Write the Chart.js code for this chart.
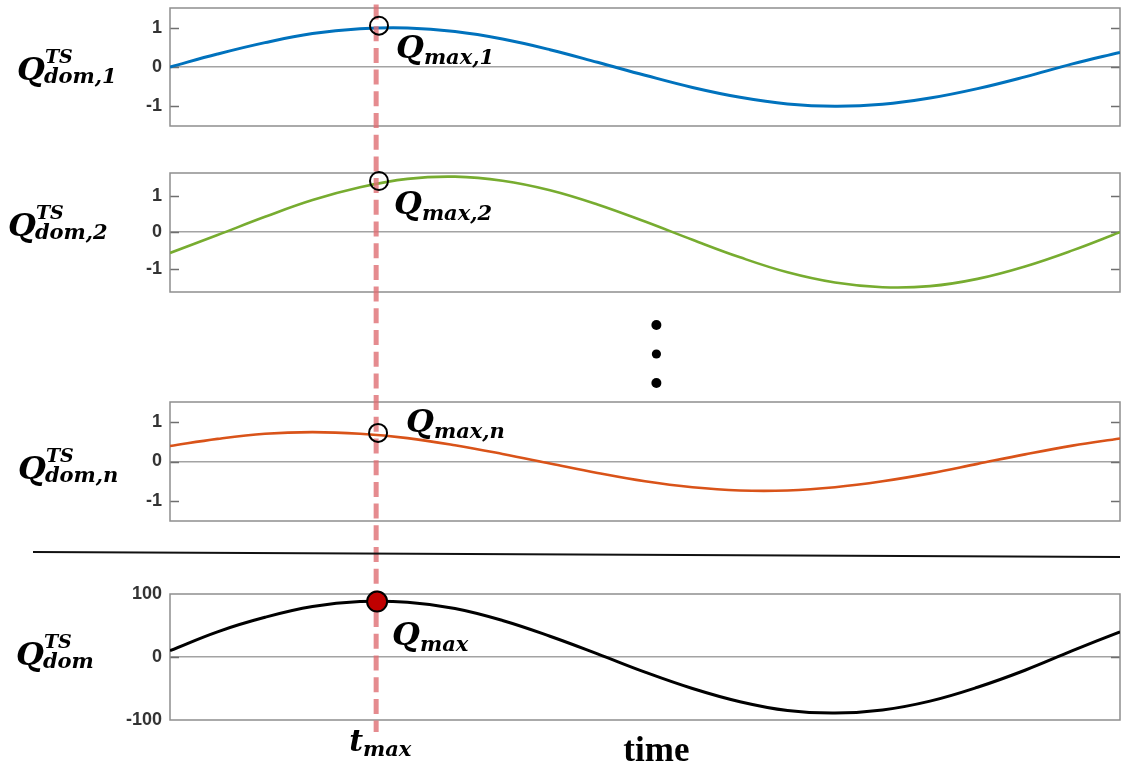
<!DOCTYPE html>
<html>
<head>
<meta charset="utf-8">
<script src="https://cdn.jsdelivr.net/npm/chart.js@4.4.1/dist/chart.umd.min.js"></script>
<style>
  html, body { margin: 0; padding: 0; background: #fff; }
  #fig { position: relative; width: 1122px; height: 767px; overflow: hidden; background: #fff; }
  #fig canvas { position: absolute; left: 0; }
</style>
</head>
<body>
<div id="fig">
  <canvas id="c1"></canvas>
  <canvas id="c2"></canvas>
  <canvas id="c3"></canvas>
  <canvas id="c4"></canvas>
</div>
<script>
// ---- data -------------------------------------------------------------
const timeAxis = [0, 5, 10, 15, 20, 25, 30, 35, 40, 45, 50, 55, 60, 65, 70, 75, 80, 85, 90, 95, 100];

const qDom1 = [0.00, 0.33, 0.62, 0.85, 0.97, 0.99, 0.90, 0.71, 0.44, 0.12, -0.21, -0.52, -0.77, -0.94, -1.00, -0.95, -0.79, -0.55, -0.25, 0.08, 0.37];
const qDom2 = [-0.57, -0.08, 0.42, 0.88, 1.23, 1.46, 1.52, 1.41, 1.15, 0.76, 0.29, -0.21, -0.69, -1.10, -1.38, -1.51, -1.48, -1.28, -0.94, -0.50, 0.00];
const qDomN = [0.39, 0.57, 0.70, 0.74, 0.70, 0.59, 0.41, 0.19, -0.05, -0.29, -0.50, -0.65, -0.73, -0.73, -0.65, -0.50, -0.30, -0.06, 0.18, 0.40, 0.58];
const qDom  = [10, 40, 63, 80, 88, 87, 77, 58, 33, 5, -24, -50, -71, -85, -89, -84, -70, -48, -21, 10, 40];

const tickUnit = [-1, 0, 1];
const tickDom  = [-100, 0, 100];

const tMax = 21.7;                       // time of the peak of the summed series
const peakTimes  = [22.0, 22.0, 21.9, 21.8];
const peakValues = [1.05, 1.40, 0.72, 88];
const ellipsisTime = 51.2;               // x position of the vertical ellipsis and the "time" caption

// ---- layout -------------------------------------------------------------
const W = 1122;
const PLOT_LEFT = 170, PLOT_RIGHT = 1120;
const DASH_TOP = 4.5, DASH_BOTTOM = 732;
const SERIF = '"DejaVu Serif", "Liberation Serif", serif';

const panels = [
  { canvas: 'c1', top: 0,   height: 150, plotTop: 8,   plotBottom: 126, series: qDom1, color: '#0072BD', lw: 3,
    yMin: -1.5, yMax: 1.5, ticks: tickUnit, name: { x: 17, base: 80, sub: 'dom,1' },
    peak: { dx: 17, dy: 32, sub: 'max,1' }, fill: 'rgba(0,0,0,0)', radius: 9 },
  { canvas: 'c2', top: 150, height: 242, plotTop: 173, plotBottom: 292, series: qDom2, color: '#77AC30', lw: 2.6,
    yMin: -1.64, yMax: 1.62, ticks: tickUnit, name: { x: 8, base: 236, sub: 'dom,2' },
    peak: { dx: 15, dy: 33, sub: 'max,2' }, fill: 'rgba(0,0,0,0)', radius: 9 },
  { canvas: 'c3', top: 392, height: 183, plotTop: 402, plotBottom: 521, series: qDomN, color: '#D95319', lw: 2.6,
    yMin: -1.5, yMax: 1.5, ticks: tickUnit, name: { x: 18, base: 479, sub: 'dom,n' },
    peak: { dx: 28, dy: -1, sub: 'max,n' }, fill: 'rgba(0,0,0,0)', radius: 9 },
  { canvas: 'c4', top: 575, height: 192, plotTop: 594, plotBottom: 720, series: qDom, color: '#000000', lw: 3,
    yMin: -100, yMax: 100, ticks: tickDom, name: { x: 16, base: 665, sub: 'dom' },
    peak: { dx: 15, dy: 43, sub: 'max' }, fill: '#C00000', radius: 10 }
];

// Q with optional superscript / subscript, drawn in bold italic serif
function mathLabel(ctx, x, base, main, sup, sub, s) {
  ctx.save();
  ctx.fillStyle = '#000';
  ctx.textAlign = 'left';
  ctx.textBaseline = 'alphabetic';
  ctx.font = `bold italic ${s.main}px ${SERIF}`;
  ctx.fillText(main, x, base);
  const w = ctx.measureText(main).width;
  if (sup) {
    ctx.font = `bold italic ${s.sup}px ${SERIF}`;
    ctx.fillText(sup, x + w + (s.supDx || 0), base - s.supRise);
  }
  if (sub) {
    ctx.font = `bold italic ${s.sub}px ${SERIF}`;
    ctx.fillText(sub, x + w + (s.subDx || 0), base + s.subDrop);
  }
  ctx.restore();
}

const nameStyle = { main: 32, sup: 19, sub: 21, supRise: 17, subDrop: 3, supDx: 0, subDx: -1 };
const peakStyle = { main: 32, sub: 21, subDrop: 6, subDx: 0 };

function makeDecor(p, idx) {
  return {
    id: 'panelDecor' + idx,
    beforeDatasetsDraw(chart) {
      const { ctx, chartArea: a, scales: { y } } = chart;
      ctx.save();
      // inward tick marks on both sides
      ctx.strokeStyle = '#6f6f6f';
      ctx.lineWidth = 1.5;
      y.ticks.forEach(t => {
        const py = Math.round(y.getPixelForValue(t.value)) + 0.5;
        if (py <= a.top + 2 || py >= a.bottom - 2) return;
        ctx.beginPath();
        ctx.moveTo(a.left, py); ctx.lineTo(a.left + 9, py);
        ctx.moveTo(a.right - 9, py); ctx.lineTo(a.right, py);
        ctx.stroke();
      });
      // axes box
      ctx.strokeStyle = '#8e8e8e';
      ctx.lineWidth = 1.5;
      ctx.strokeRect(a.left, a.top, a.right - a.left, a.bottom - a.top);
      ctx.restore();
    },
    afterDatasetDraw(chart, args) {
      if (args.index !== 0) return;
      // vertical dashed line at t_max, continuous across all panels
      const { ctx } = chart;
      const x = chart.scales.x.getPixelForValue(tMax);
      const y0 = Math.max(DASH_TOP, p.top), y1 = Math.min(DASH_BOTTOM, p.top + p.height);
      if (y1 <= y0) return;
      ctx.save();
      ctx.strokeStyle = 'rgba(222, 110, 115, 0.8)';
      ctx.lineWidth = 5;
      ctx.setLineDash([15, 6.7]);
      ctx.lineDashOffset = (y0 - DASH_TOP) % 21.7;
      ctx.beginPath();
      ctx.moveTo(x, y0 - p.top);
      ctx.lineTo(x, y1 - p.top);
      ctx.stroke();
      ctx.restore();
    },
    afterDraw(chart) {
      const { ctx } = chart;
      const xs = chart.scales.x, ys = chart.scales.y;
      // series name on the left
      mathLabel(ctx, p.name.x, p.name.base - p.top, 'Q', 'TS', p.name.sub, nameStyle);
      // peak label next to the marker
      const mx = xs.getPixelForValue(peakTimes[idx]);
      const my = ys.getPixelForValue(peakValues[idx]);
      mathLabel(ctx, mx + p.peak.dx, my + p.peak.dy, 'Q', null, p.peak.sub, peakStyle);

      if (idx === 1) {
        // vertical ellipsis between panels
        const ex = xs.getPixelForValue(ellipsisTime);
        ctx.save();
        ctx.fillStyle = '#000';
        [[325, 5], [354, 4.6], [383, 5]].forEach(([gy, r]) => {
          ctx.beginPath(); ctx.arc(ex, gy - p.top, r, 0, Math.PI * 2); ctx.fill();
        });
        ctx.restore();
      }
      if (idx === 2) {
        // separator between the components and their sum
        ctx.save();
        ctx.strokeStyle = '#111';
        ctx.lineWidth = 2;
        ctx.beginPath();
        ctx.moveTo(33, 552 - p.top);
        ctx.lineTo(PLOT_RIGHT, 557 - p.top);
        ctx.stroke();
        ctx.restore();
      }
      if (idx === 3) {
        const tx = xs.getPixelForValue(tMax);
        ctx.save();
        ctx.fillStyle = '#000';
        ctx.textBaseline = 'alphabetic';
        ctx.font = `bold italic 30px ${SERIF}`;
        ctx.textAlign = 'left';
        ctx.fillText('t', tx - 27, 751 - p.top);
        const tw = ctx.measureText('t').width;
        ctx.font = `bold italic 21px ${SERIF}`;
        ctx.fillText('max', tx - 27 + tw, 756 - p.top);
        ctx.font = 'bold 35px "Liberation Serif", "Times New Roman", serif';
        ctx.textAlign = 'center';
        ctx.fillText('time', xs.getPixelForValue(ellipsisTime), 761 - p.top);
        ctx.restore();
      }
    }
  };
}

panels.forEach((p, i) => {
  const cv = document.getElementById(p.canvas);
  cv.width = W; cv.height = p.height;
  cv.style.width = W + 'px'; cv.style.height = p.height + 'px';
  cv.style.top = p.top + 'px';
  new Chart(cv, {
    type: 'line',
    data: {
      datasets: [
        {
          data: timeAxis.map((t, j) => ({ x: t, y: p.series[j] })),
          borderColor: p.color, borderWidth: p.lw, pointRadius: 0,
          tension: 0.4, fill: false, order: 1
        },
        {
          data: [{ x: peakTimes[i], y: peakValues[i] }],
          showLine: false, pointRadius: p.radius, pointHoverRadius: p.radius,
          pointBackgroundColor: p.fill, pointBorderColor: '#000', pointBorderWidth: 2,
          clip: false, order: 0
        }
      ]
    },
    options: {
      responsive: false, animation: false, devicePixelRatio: 1,
      events: [],
      layout: {
        autoPadding: false,
        padding: { top: p.plotTop - p.top, bottom: p.top + p.height - p.plotBottom, left: 0, right: W - PLOT_RIGHT }
      },
      plugins: { legend: { display: false }, tooltip: { enabled: false } },
      scales: {
        x: { type: 'linear', min: 0, max: 100, display: false },
        y: {
          min: p.yMin, max: p.yMax,
          afterBuildTicks: s => { s.ticks = p.ticks.map(v => ({ value: v })); },
          afterFit: s => { s.width = PLOT_LEFT; s.paddingTop = 0; s.paddingBottom = 0; },
          grid: {
            drawTicks: false, lineWidth: 1.5,
            color: c => (c.tick && c.tick.value === 0) ? '#a3a3a3' : 'rgba(0,0,0,0)'
          },
          border: { display: false },
          ticks: {
            padding: 8, color: '#333333',
            font: { family: '"Liberation Sans", Arial, sans-serif', size: 18, weight: 'bold' }
          }
        }
      }
    },
    plugins: [makeDecor(p, i)]
  });
});
</script>
</body>
</html>
